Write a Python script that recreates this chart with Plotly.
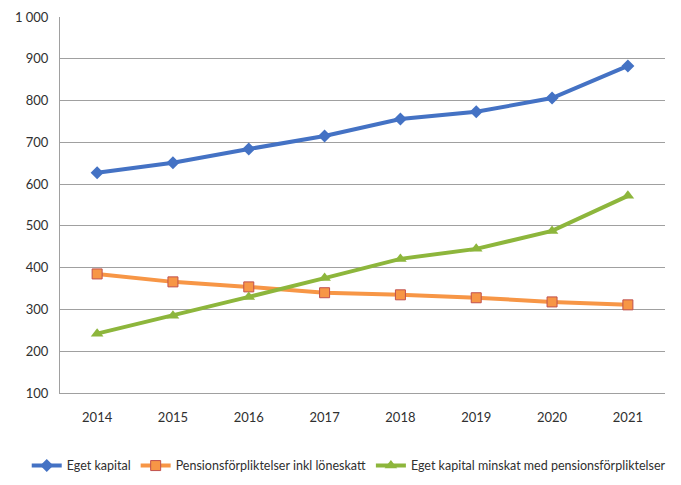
import plotly.graph_objects as go

years = ["2014", "2015", "2016", "2017", "2018", "2019", "2020", "2021"]
eget_kapital = [627, 651, 684, 715, 756, 773, 806, 883]
pension = [385, 366, 354, 340, 335, 328, 318, 311]
eget_minskat = [242, 285, 330, 375, 421, 445, 488, 572]

font_family = "Lato, Liberation Sans, sans-serif"

fig = go.Figure()
fig.add_trace(go.Scatter(
    x=years, y=eget_kapital, name="Eget kapital", mode="lines+markers",
    line=dict(color="#4472C4", width=4),
    marker=dict(symbol="diamond", size=10, color="#4472C4"),
))
fig.add_trace(go.Scatter(
    x=years, y=pension, name="Pensionsförpliktelser inkl löneskatt", mode="lines+markers",
    line=dict(color="#F79646", width=4),
    marker=dict(symbol="square", size=10, color="#F79646", line=dict(color="#C0504D", width=1)),
))
fig.add_trace(go.Scatter(
    x=years, y=eget_minskat, name="Eget kapital minskat med pensionsförpliktelser", mode="lines+markers",
    line=dict(color="#8DB63C", width=4),
    marker=dict(symbol="triangle-up", size=11, color="#8DB63C"),
))

fig.update_layout(
    width=673, height=477,
    margin=dict(l=52, r=16, t=9, b=92, autoexpand=False),
    paper_bgcolor="white", plot_bgcolor="white",
    font=dict(family=font_family, size=13, color="#303030"),
    separators=", ",
    showlegend=True,
    legend=dict(orientation="h", x=-0.055, xanchor="left", y=-0.194, yanchor="middle",
                font=dict(size=12.5, color="#303030"), itemwidth=30, tracegroupgap=0),
)
fig.update_xaxes(
    type="category", showgrid=False, showline=True, linecolor="#A0A0A0", linewidth=1,
    ticks="", ticklabelstandoff=12,
)
fig.update_yaxes(
    range=[100, 1000], dtick=100, tickformat=",d", showgrid=True, gridcolor="#A0A0A0",
    gridwidth=1, showline=True, linecolor="#A0A0A0", linewidth=1, zeroline=False,
    ticks="", ticklabelstandoff=8,
)

fig.write_html("out.html")
